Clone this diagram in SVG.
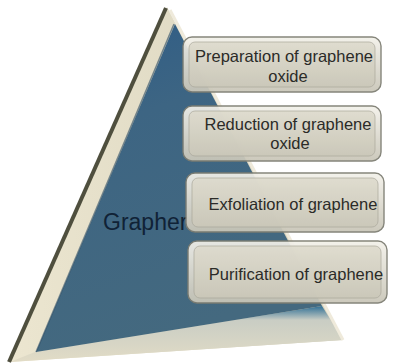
<svg xmlns="http://www.w3.org/2000/svg" width="393" height="364" viewBox="0 0 393 364">
<defs>
<linearGradient id="blue" x1="0" y1="0" x2="0.3" y2="1">
<stop offset="0" stop-color="#2e5c86"/>
<stop offset="0.35" stop-color="#3d6583"/>
<stop offset="1" stop-color="#44697f"/>
</linearGradient>
<linearGradient id="bevel" x1="0" y1="0" x2="1" y2="0">
<stop offset="0" stop-color="#ece6d0"/>
<stop offset="1" stop-color="#d6d1bb"/>
</linearGradient>
<linearGradient id="bottom" x1="0" y1="0" x2="0" y2="1">
<stop offset="0" stop-color="#2f6f95"/>
<stop offset="0.25" stop-color="#c9cdc4"/>
<stop offset="1" stop-color="#e2dcc6"/>
</linearGradient>
<linearGradient id="frame" x1="0" y1="0" x2="0" y2="1">
<stop offset="0" stop-color="#f3f1ea"/>
<stop offset="1" stop-color="#c9c6b8"/>
</linearGradient>
<linearGradient id="face" x1="0" y1="0" x2="0" y2="1">
<stop offset="0" stop-color="#dddacc"/>
<stop offset="1" stop-color="#cbc8b9"/>
</linearGradient>
</defs>
<style>
.frame{fill:url(#frame);stroke:#7d7d72;stroke-width:1.4;opacity:0.93}
.face{fill:url(#face);stroke:#a9a79b;stroke-width:0.8;opacity:0.88}
.t{font-family:"Liberation Sans",Arial,sans-serif;font-size:16.5px;fill:#2b2b28;text-anchor:middle}
.g{font-family:"Liberation Sans",Arial,sans-serif;font-size:23px;fill:#102236}
</style>
<g id="pyramid">
<polygon points="167,7 10,362 343,340" fill="url(#bevel)"/>
<polygon points="10,362 35,352 322,306 343,340" fill="url(#bottom)"/>
<polygon points="175,24 36,352 322,306" fill="url(#blue)"/>
<line x1="166" y1="8" x2="9" y2="362" stroke="#4f4f3e" stroke-width="4"/>
<line x1="174" y1="24" x2="36" y2="352" stroke="#2a4a63" stroke-width="1.5" opacity="0.6"/>
<line x1="170" y1="10" x2="343" y2="340" stroke="#efeadb" stroke-width="3"/>
<text class="g" x="103" y="230">Grapher</text>
</g>
<g id="box1">
<rect class="frame" x="183" y="37" width="198" height="55" rx="9"/>
<rect class="face" x="189" y="42" width="186" height="45" rx="6"/>
<text class="t" x="284" y="62">Preparation of graphene</text>
<text class="t" x="288" y="82">oxide</text>
</g>
<g id="box2">
<rect class="frame" x="183" y="106" width="198" height="55" rx="9"/>
<rect class="face" x="189" y="111" width="186" height="45" rx="6"/>
<text class="t" x="288" y="130">Reduction of graphene</text>
<text class="t" x="290" y="149">oxide</text>
</g>
<g id="box3">
<rect class="frame" x="186" y="173" width="198" height="59" rx="9"/>
<rect class="face" x="192" y="178" width="186" height="49" rx="6"/>
<text class="t" x="293" y="210">Exfoliation of graphene</text>
</g>
<g id="box4">
<rect class="frame" x="188" y="241" width="199" height="62" rx="9"/>
<rect class="face" x="194" y="246" width="187" height="52" rx="6"/>
<text class="t" x="296" y="280">Purification of graphene</text>
</g>
<g id="connectors"/>
</svg>
